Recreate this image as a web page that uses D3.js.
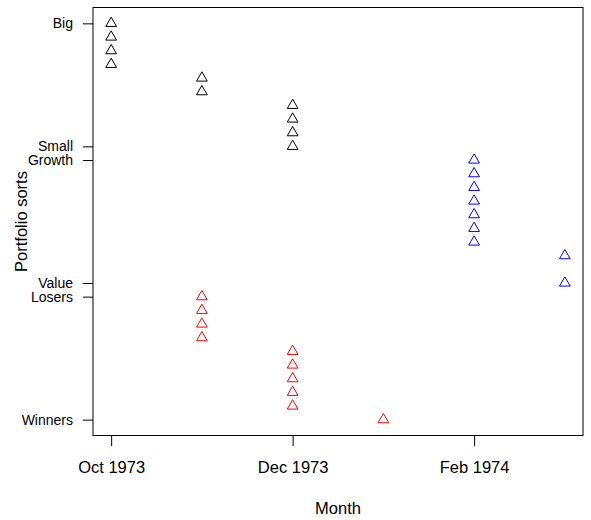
<!DOCTYPE html>
<html>
<head>
<meta charset="utf-8">
<script src="https://cdn.jsdelivr.net/npm/d3@7"></script>
<style>
  body { margin: 0; background: #fff; }
  svg text { font-family: "Liberation Sans", Arial, Helvetica, sans-serif; fill: #000; }
</style>
</head>
<body>
<div id="chart"></div>
<script>
// months on the x axis (evenly spaced, like yearmon)
let months = ["Oct 1973", "Nov 1973", "Dec 1973", "Jan 1974", "Feb 1974", "Mar 1974"];
let monthTicks = ["Oct 1973", "Dec 1973", "Feb 1974"];

// y axis labels and their positions
let sortLabels = ["Winners", "Losers", "Value", "Growth", "Small", "Big"];
let sortValues = [0, 9, 10, 19, 20, 29];

// size sorts (black)
let sizeMonths = ["Oct 1973", "Oct 1973", "Oct 1973", "Oct 1973", "Nov 1973", "Nov 1973",
                  "Dec 1973", "Dec 1973", "Dec 1973", "Dec 1973"];
let sizeValues = [29, 28, 27, 26, 25, 24, 23, 22, 21, 20];

// momentum sorts (red)
let momMonths = ["Nov 1973", "Nov 1973", "Nov 1973", "Nov 1973",
                 "Dec 1973", "Dec 1973", "Dec 1973", "Dec 1973", "Dec 1973", "Jan 1974"];
let momValues = [9, 8, 7, 6, 5, 4, 3, 2, 1, 0];

// book-to-market sorts (blue)
let bmMonths = ["Feb 1974", "Feb 1974", "Feb 1974", "Feb 1974", "Feb 1974", "Feb 1974", "Feb 1974",
                "Mar 1974", "Mar 1974"];
let bmValues = [19, 18, 17, 16, 15, 14, 13, 12, 10];

function makeGraph() {
    let w = 591, h = 520;
    let left = 93, right = 583, top = 7.5, bottom = 435.5;

    let svg = d3.select('#chart')
        .append('svg')
        .attr('width', w)
        .attr('height', h);

    let xScale = d3.scalePoint()
        .domain(months)
        .range([left, right])
        .padding(0.2);

    let yMin = d3.min(sortValues), yMax = d3.max(sortValues);
    let pad = 0.04 * (yMax - yMin);
    let yScale = d3.scaleLinear()
        .domain([yMin - pad, yMax + pad])
        .range([bottom, top]);

    let series = [
        {months: sizeMonths, values: sizeValues, color: '#000000'},
        {months: momMonths, values: momValues, color: '#ff0000'},
        {months: bmMonths, values: bmValues, color: '#0000ff'}
    ];

    let tri = d3.symbol().type(d3.symbolTriangle).size(50);

    series.forEach(s => {
        let pts = s.values.map((v, i) => ({m: s.months[i], v: v}));
        svg.append('g')
            .selectAll('path')
            .data(pts)
            .enter()
            .append('path')
            .attr('d', tri)
            .attr('transform', d => `translate(${xScale(d.m)},${yScale(d.v)})`)
            .attr('fill', 'none')
            .attr('stroke', s.color)
            .attr('stroke-width', 1);
    });

    // box
    svg.append('rect')
        .attr('x', left)
        .attr('y', top)
        .attr('width', right - left)
        .attr('height', bottom - top)
        .attr('fill', 'none')
        .attr('stroke', '#000')
        .attr('stroke-width', 1);

    let xAxis = d3.axisBottom(xScale)
        .tickValues(monthTicks)
        .tickSize(10)
        .tickPadding(15);
    let xg = svg.append('g')
        .attr('transform', `translate(0, ${bottom + 0.5})`)
        .call(xAxis);
    xg.select('.domain').remove();
    xg.selectAll('text').style('font-size', '16.5px');

    let yAxis = d3.axisLeft(yScale)
        .tickValues(sortValues)
        .tickFormat((d, i) => sortLabels[i])
        .tickSize(10)
        .tickPadding(10);
    let yg = svg.append('g')
        .attr('transform', `translate(${left}, 0)`)
        .call(yAxis);
    yg.select('.domain').remove();
    yg.selectAll('text').style('font-size', '14px');

    svg.append('text')
        .attr('x', (left + right) / 2)
        .attr('y', 514)
        .attr('text-anchor', 'middle')
        .style('font-size', '16.5px')
        .text('Month');

    svg.append('text')
        .attr('transform', 'rotate(-90)')
        .attr('x', -(top + bottom) / 2)
        .attr('y', 27)
        .attr('text-anchor', 'middle')
        .style('font-size', '16.5px')
        .text('Portfolio sorts');
}

window.onload = () => {
    makeGraph();
};
</script>
</body>
</html>
